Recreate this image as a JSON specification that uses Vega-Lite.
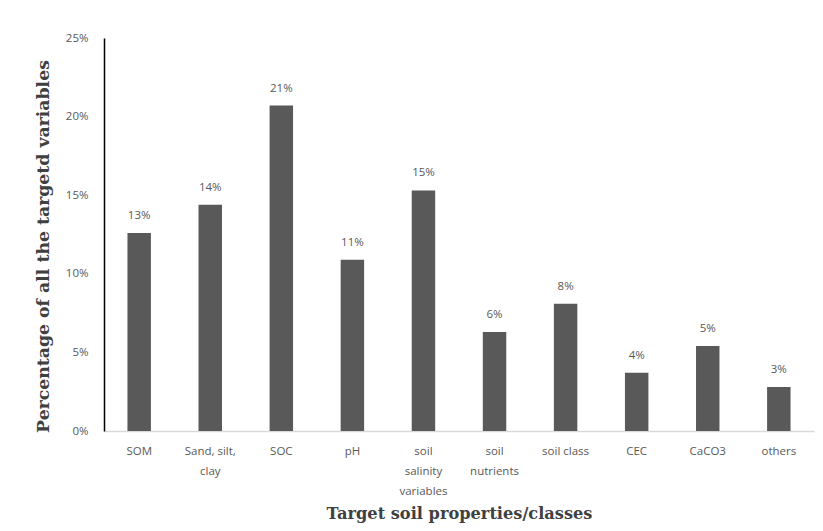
{
  "$schema": "https://vega.github.io/schema/vega-lite/v6.json",
  "width": 710,
  "height": 393,
  "autosize": {"type": "none"},
  "padding": {"left": 104, "top": 38, "right": 9, "bottom": 100},
  "background": "white",
  "config": {"view": {"stroke": null}},
  "data": {"values": [
    {"cat": "SOM", "pct": 0.126},
    {"cat": "Sand, silt, clay", "pct": 0.144},
    {"cat": "SOC", "pct": 0.207},
    {"cat": "pH", "pct": 0.109},
    {"cat": "soil salinity variables", "pct": 0.153},
    {"cat": "soil nutrients", "pct": 0.063},
    {"cat": "soil class", "pct": 0.081},
    {"cat": "CEC", "pct": 0.037},
    {"cat": "CaCO3", "pct": 0.054},
    {"cat": "others", "pct": 0.028}
  ]},
  "encoding": {
    "x": {
      "field": "cat", "type": "nominal", "sort": null,
      "scale": {"paddingInner": 0.67, "paddingOuter": 0.33},
      "axis": {
        "title": "Target soil properties/classes",
        "titleFont": "DejaVu Serif", "titleFontSize": 16.2, "titleFontWeight": "bold", "titleColor": "#404040",
        "titlePadding": 9,
        "labelAngle": 0, "labelFont": "Open Sans", "labelFontSize": 11.5, "labelColor": "#595959",
        "labelPadding": 14, "labelLineHeight": 20,
        "labelExpr": "datum.value == 'Sand, silt, clay' ? ['Sand, silt,', 'clay'] : datum.value == 'soil salinity variables' ? ['soil', 'salinity', 'variables'] : datum.value == 'soil nutrients' ? ['soil', 'nutrients'] : datum.value",
        "ticks": false, "domainColor": "#d9d9d9", "domainWidth": 1.5, "grid": false
      }
    },
    "y": {
      "field": "pct", "type": "quantitative",
      "scale": {"domain": [0, 0.25]},
      "axis": {
        "title": "Percentage of all the targetd variables",
        "titleFont": "DejaVu Serif", "titleFontSize": 17.3, "titleFontWeight": "bold", "titleColor": "#404040",
        "titlePadding": 13, "titleY": 208,
        "format": ".0%", "values": [0, 0.05, 0.1, 0.15, 0.2, 0.25],
        "labelFont": "Open Sans", "labelFontSize": 11.5, "labelColor": "#595959", "labelPadding": 16,
        "ticks": false, "grid": false, "domainColor": "#000000", "domainWidth": 1.5
      }
    }
  },
  "layer": [
    {"mark": {"type": "bar", "color": "#595959"}},
    {
      "mark": {"type": "text", "dy": -17, "font": "Open Sans", "fontSize": 11.5, "color": "#595959"},
      "encoding": {"text": {"field": "pct", "type": "quantitative", "format": ".0%"}}
    }
  ]
}
